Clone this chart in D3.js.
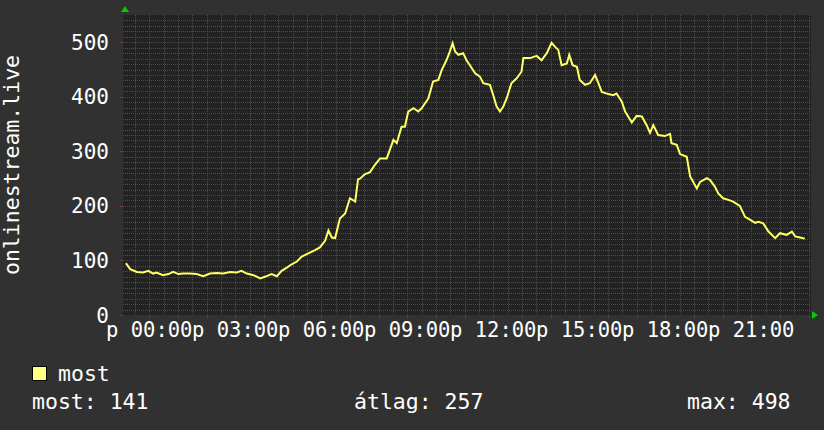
<!DOCTYPE html>
<html><head><meta charset="utf-8">
<script src="https://cdn.jsdelivr.net/npm/d3@7"></script>
<style>body{margin:0;background:#313131;}svg{display:block;}</style>
</head><body>
<svg id="c" width="824" height="430"></svg>
<script>
// time in minutes relative to 00:00 (péntek)
const times = [-49,-40,-26,-13,-2,8,15,29,40,50,61,71,85,99,113,127,141,155,169,183,193,204,218,232,242,256,267,277,288,298,309,319,333,347,357,368,375,382,389,399,410,420,431,437,441,451,462,472,483,497,511,518,528,535,542,553,563,570,584,594,605,612,622,629,635,640,647,657,664,671,682,692,699,713,720,727,734,741,748,758,769,779,783,797,811,821,832,842,849,856,863,874,879,886,895,901,912,922,933,940,947,961,971,978,989,996,1010,1020,1031,1041,1048,1055,1065,1079,1090,1093,1104,1111,1125,1132,1146,1153,1167,1174,1184,1191,1201,1212,1222,1236,1247,1257,1268,1275,1285,1296,1310,1320,1334,1345,1352,1362,1372];
const values = [95,84,79,78,81,76,78,73,75,79,75,76,76,75,71,76,77,76,79,78,81,76,73,67,70,75,71,81,87,93,98,107,113,119,124,136,155,142,141,177,186,214,208,249,250,258,262,275,287,287,321,315,345,345,373,379,373,379,397,428,431,449,467,483,498,483,477,480,467,458,443,437,425,422,403,382,373,382,397,425,434,446,471,471,475,467,480,499,492,486,458,461,477,458,455,431,422,425,440,425,409,405,403,406,391,373,353,365,364,348,334,348,330,328,332,315,312,295,290,254,232,244,251,247,235,223,214,211,208,200,180,175,169,171,168,153,141,150,147,153,144,142,140];
const tickLabels = ["p 00:00","p 03:00","p 06:00","p 09:00","p 12:00","p 15:00","p 18:00","p 21:00"];
const yTicks = [0,100,200,300,400,500];
const seriesName = "most";
const yTitle = "onlinestream.live";
const stats = ["most: 141","átlag: 257","max: 498"];

const svg = d3.select("#c");
const L=123, R=811, T=15, B=315;
const x = d3.scaleLinear().domain([-55, 1385]).range([L, R]);
const y = d3.scaleLinear().domain([0, 550]).range([B, T]);
const font = "'DejaVu Sans Mono', monospace";

svg.append("rect").attr("width",824).attr("height",430).attr("fill","#313131");
svg.append("rect").attr("x",L).attr("y",T).attr("width",R-L).attr("height",B-T).attr("fill","#222222");

const g = svg.append("g");
for (let v = 10; v <= 540; v += 10) {
  const major = v % 100 === 0;
  g.append("line").attr("x1",L).attr("x2",R).attr("y1",Math.round(y(v))+0.5).attr("y2",Math.round(y(v))+0.5)
   .attr("stroke", major ? "#7a3535" : "#4e4e4e").attr("stroke-dasharray","1,1").attr("stroke-width",1);
}
for (let m = -30; m <= 1380; m += 30) {
  const major = m % 60 === 0;
  const xx = Math.round(x(m))+0.5;
  g.append("line").attr("x1",xx).attr("x2",xx).attr("y1",T).attr("y2",B)
   .attr("stroke", major ? "#7a3535" : "#4e4e4e").attr("stroke-dasharray","1,1").attr("stroke-width",1);
  if (major) g.append("line").attr("x1",xx).attr("x2",xx).attr("y1",B).attr("y2",B+3).attr("stroke","#7a3535");
}
yTicks.forEach(v=>{
  svg.append("line").attr("x1",L-3).attr("x2",L).attr("y1",Math.round(y(v))+0.5).attr("y2",Math.round(y(v))+0.5).attr("stroke","#7a3535");
});

svg.selectAll(".yl").data(yTicks).enter().append("text")
  .attr("x",109).attr("y",d=>y(d)+7.5).attr("text-anchor","end")
  .attr("font-family",font).attr("font-size",21).attr("fill","#ffffff").text(d=>d);

svg.selectAll(".xl").data(tickLabels).enter().append("text")
  .attr("x",(d,i)=>x(i*180)).attr("y",337).attr("text-anchor","middle")
  .attr("font-family",font).attr("font-size",20.5).attr("fill","#ffffff").text(d=>d);

svg.append("text").attr("transform","translate(19,165) rotate(-90)").attr("text-anchor","middle")
  .attr("font-family",font).attr("font-size",21.5).attr("fill","#ffffff").text(yTitle);

svg.append("path").attr("d",`M${L-2},${T-3} L${L+6},${T-3} L${L+2},${T-9} Z`).attr("fill","#00cc00");
svg.append("path").attr("d",`M${R+1},${B-4} L${R+1},${B+4} L${R+7},${B} Z`).attr("fill","#00cc00");

const data = times.map((t,i)=>[t, values[i]]);
svg.append("path").datum(data)
  .attr("d", d3.line().x(d=>x(d[0])).y(d=>y(d[1])))
  .attr("fill","none").attr("stroke","#ffff66").attr("stroke-width",2).attr("stroke-linejoin","miter");

svg.append("rect").attr("x",32.5).attr("y",366.5).attr("width",14).attr("height",14).attr("fill","#ffff80").attr("stroke","#000");
const lf = 21.5;
svg.append("text").attr("x",58).attr("y",381).attr("font-family",font).attr("font-size",lf).attr("fill","#fff").text(seriesName);
svg.append("text").attr("x",32).attr("y",409).attr("font-family",font).attr("font-size",lf).attr("fill","#fff").text(stats[0]);
svg.append("text").attr("x",354).attr("y",409).attr("font-family",font).attr("font-size",lf).attr("fill","#fff").text(stats[1]);
svg.append("text").attr("x",687).attr("y",409).attr("font-family",font).attr("font-size",lf).attr("fill","#fff").text(stats[2]);
</script>
</body></html>
